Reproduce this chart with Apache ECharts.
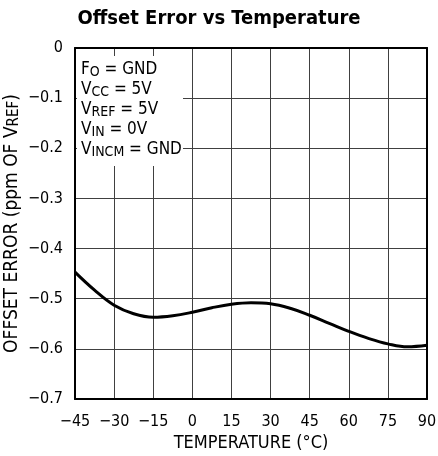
<!DOCTYPE html>
<html>
<head>
<meta charset="utf-8">
<script src="https://cdn.jsdelivr.net/npm/echarts@6/dist/echarts.min.js"></script>
<style>
  html, body { margin: 0; padding: 0; background: #fff; }
  #chart { width: 438px; height: 456px; }
</style>
</head>
<body>
<div id="chart"></div>
<script>
  // values
  var temps = [-45, -37.5, -30, -22.5, -15, -7.5, 0, 7.5, 15, 22.5, 30, 37.5, 45, 52.5, 60, 67.5, 75, 82.5, 90];
  var offsetErr = [-0.447, -0.483, -0.513, -0.530, -0.537, -0.534, -0.527, -0.518, -0.511, -0.508,
                   -0.510, -0.519, -0.533, -0.549, -0.565, -0.579, -0.590, -0.596, -0.593];
  var conditions = [
    ['F', 'O', ' = GND'],
    ['V', 'CC', ' = 5V'],
    ['V', 'REF', ' = 5V'],
    ['V', 'IN', ' = 0V'],
    ['V', 'INCM', ' = GND']
  ];

  var FONT = '"DejaVu Sans Condensed", "Liberation Sans", sans-serif';
  var GRIDC = '#404040';

  function minus(v) {
    return String(v).replace('-', '\u2212');
  }

  var chart = echarts.init(document.getElementById('chart'));

  var condText = conditions.map(function (c) {
    return '{m|' + c[0] + '}{s|' + c[1] + '}{m|' + c[2] + '}';
  }).join('\n');

  var option = {
    backgroundColor: '#fff',
    animation: false,
    title: {
      text: 'Offset Error vs Temperature',
      left: 214,
      textAlign: 'center',
      top: 4,
      textStyle: { fontFamily: FONT, fontWeight: 'bold', fontSize: 20, color: '#000' }
    },
    grid: { left: 75, right: 11, top: 48, bottom: 57, outerBoundsMode: 'none', containLabel: false },
    xAxis: [{
      type: 'value',
      min: -45, max: 90, interval: 15,
      name: 'TEMPERATURE (\u00b0C)',
      nameLocation: 'middle',
      nameGap: 35,
      nameMoveOverlap: false,
      nameTextStyle: { fontFamily: FONT, fontSize: 18, color: '#000' },
      axisLine: { show: true, onZero: false, lineStyle: { color: '#000', width: 2 } },
      axisTick: { show: false },
      axisLabel: { fontFamily: FONT, fontSize: 16, color: '#000', margin: 15, formatter: minus },
      splitLine: { show: true, lineStyle: { color: GRIDC, width: 1 } }
    }, {
      type: 'value', position: 'top',
      min: -45, max: 90, interval: 15,
      axisLine: { show: true, onZero: false, lineStyle: { color: '#000', width: 2 } },
      axisTick: { show: false }, axisLabel: { show: false }, splitLine: { show: false }
    }],
    yAxis: [{
      type: 'value',
      min: -0.7, max: 0, interval: 0.1,
      name: 'OFFSET ERROR (ppm OF V{s|REF})',
      nameLocation: 'middle',
      nameGap: 53,
      nameMoveOverlap: false,
      nameTextStyle: {
        fontFamily: FONT, fontSize: 19, color: '#000',
        rich: { s: { fontFamily: FONT, fontSize: 15, color: '#000', verticalAlign: 'bottom', lineHeight: 12 } }
      },
      axisLine: { show: true, onZero: false, lineStyle: { color: '#000', width: 2 } },
      axisTick: { show: false },
      axisLabel: {
        fontFamily: FONT, fontSize: 16, color: '#000', margin: 12,
        formatter: function (v) { return v === 0 ? '0' : minus(v.toFixed(1)); }
      },
      splitLine: { show: true, lineStyle: { color: GRIDC, width: 1 } }
    }, {
      type: 'value', position: 'right',
      min: -0.7, max: 0, interval: 0.1,
      axisLine: { show: true, onZero: false, lineStyle: { color: '#000', width: 2 } },
      axisTick: { show: false }, axisLabel: { show: false }, splitLine: { show: false }
    }],
    graphic: [{
      type: 'rect',
      z: 5,
      shape: { x: 77, y: 56, width: 106, height: 110 },
      style: { fill: '#fff' }
    }, {
      type: 'text',
      z: 6,
      left: 81,
      top: 61,
      style: {
        text: condText,
        fill: '#000',
        rich: {
          m: { fontFamily: FONT, fontSize: 17, lineHeight: 20, fill: '#000' },
          s: { fontFamily: FONT, fontSize: 14, lineHeight: 11, verticalAlign: 'bottom', fill: '#000' }
        }
      }
    }],
    series: [{
      type: 'line',
      data: temps.map(function (t, i) { return [t, offsetErr[i]]; }),
      smooth: 0.4,
      showSymbol: false,
      lineStyle: { color: '#000', width: 3 },
      z: 10
    }]
  };

  chart.setOption(option);
</script>
</body>
</html>
